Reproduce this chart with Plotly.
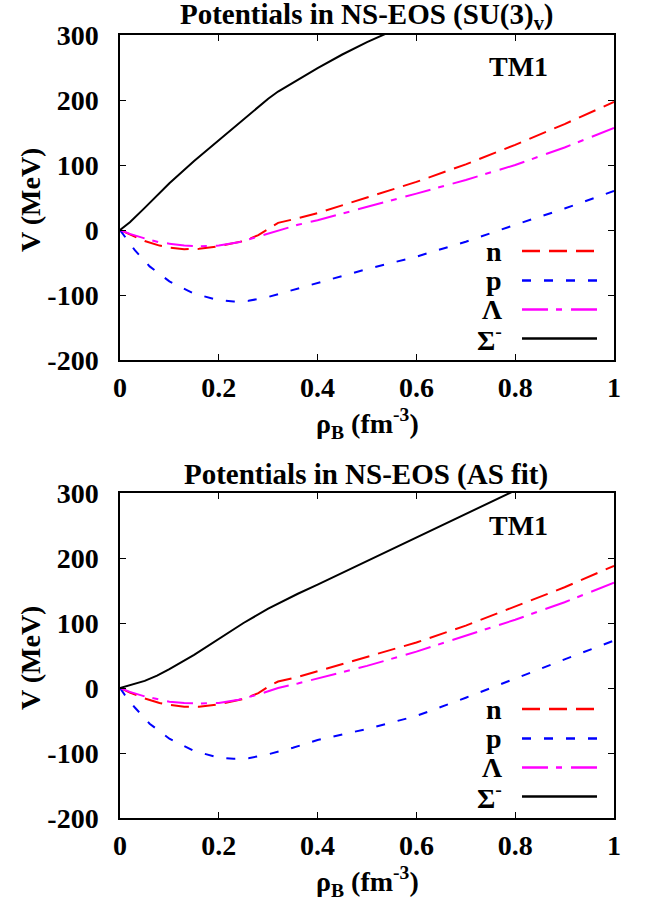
import plotly.graph_objects as go

W, H = 657, 909

# ---------------- data: top panel, SU(3)_v ----------------
n1_x = [0, 0.02, 0.05, 0.08, 0.1, 0.13, 0.16, 0.2, 0.25, 0.28, 0.30, 0.32, 0.36, 0.4, 0.5, 0.6, 0.7, 0.8, 0.9, 1.0]
n1_v = [0, -7, -17, -24, -27, -29.5, -29, -25, -17, -8, 2, 11, 18, 26, 50, 74, 101, 131, 163, 197]

p1_x = [0, 0.01, 0.03, 0.06, 0.1, 0.15, 0.2, 0.23, 0.26, 0.3, 0.35, 0.4, 0.5, 0.6, 0.7, 0.8, 0.9, 1.0]
p1_v = [0, -11, -31, -56, -79, -98, -108, -110, -109, -103, -92, -81, -60, -41, -18, 8, 33, 60]

l1_x = [0, 0.02, 0.05, 0.08, 0.1, 0.13, 0.16, 0.2, 0.24, 0.28, 0.32, 0.36, 0.4, 0.5, 0.6, 0.7, 0.8, 0.9, 1.0]
l1_v = [0, -6, -13, -19, -21, -24, -25, -24, -19, -10, 0, 8, 15, 35, 56, 77, 100, 127, 157]

s1_x = [0, 0.02, 0.05, 0.1, 0.15, 0.2, 0.25, 0.3, 0.32, 0.36, 0.4, 0.45, 0.5, 0.55, 0.6]
s1_v = [0, 12, 34, 72, 106, 138, 170, 202, 213, 231, 249, 270, 289, 306, 324]

# ---------------- data: bottom panel, AS fit ----------------
n2_x = [0, 0.02, 0.05, 0.08, 0.1, 0.13, 0.16, 0.2, 0.25, 0.28, 0.30, 0.32, 0.36, 0.4, 0.5, 0.6, 0.7, 0.8, 0.9, 1.0]
n2_v = [0, -7, -16, -23, -26, -29, -29, -25, -17, -8, 2, 10, 17, 26, 48, 70, 96, 126, 155, 188]

p2_x = [0, 0.01, 0.03, 0.06, 0.1, 0.15, 0.2, 0.23, 0.26, 0.3, 0.35, 0.4, 0.5, 0.6, 0.7, 0.75, 0.8, 0.9, 1.0]
p2_v = [0, -11, -30, -55, -78, -97, -107, -109, -108, -102, -92, -80, -63, -43, -15, 0, 15, 44, 73]

l2_x = [0, 0.02, 0.05, 0.08, 0.1, 0.13, 0.16, 0.2, 0.24, 0.28, 0.32, 0.36, 0.4, 0.5, 0.6, 0.7, 0.8, 0.9, 1.0]
l2_v = [0, -6, -13, -18, -21, -23, -24, -23, -18, -10, 0, 7, 15, 34, 56, 80, 105, 132, 162]

s2_x = [0, 0.025, 0.05, 0.075, 0.1, 0.15, 0.2, 0.25, 0.3, 0.32, 0.36, 0.4, 0.5, 0.6, 0.7, 0.8]
s2_v = [0, 5, 11, 19, 29, 51, 76, 100, 122, 130, 145, 159, 195, 232, 268, 304]

# ---------------- labels ----------------
x_tickvals = [0, 0.2, 0.4, 0.6, 0.8, 1]
x_ticktext = ["0", "0.2", "0.4", "0.6", "0.8", "1"]
y_tickvals = [-200, -100, 0, 100, 200, 300]
y_ticktext = ["-200", "-100", "0", "100", "200", "300"]
series_names = ["n", "p", "Λ", "Σ<sup>-</sup>"]
panel_titles = ["Potentials in NS-EOS (SU(3)<sub>v</sub>)", "Potentials in NS-EOS (AS fit)"]
model_label = "TM1"
x_title = "ρ<sub>B</sub> (fm<sup>-3</sup>)"
y_title = "V (MeV)"

# ---------------- styles ----------------
FONT = "Liberation Serif"
styles = [
    dict(color="#ff0000", width=2, dash="18px,9px"),
    dict(color="#0000ff", width=2, dash="9px,13px"),
    dict(color="#ff00ff", width=2, dash="26px,8px,6px,9px"),
    dict(color="#000000", width=2, dash="solid"),
]

# pixel geometry helpers (layout only)
X0, X1 = 120, 614
panels_px = [(35, 360), (493, 818)]


def px(xp):
    return xp / W


def py(yp):
    return 1 - yp / H


def bold(size):
    return dict(family=FONT, size=size, color="black", weight="bold")


fig = go.Figure()

panel_data = [
    [(n1_x, n1_v), (p1_x, p1_v), (l1_x, l1_v), (s1_x, s1_v)],
    [(n2_x, n2_v), (p2_x, p2_v), (l2_x, l2_v), (s2_x, s2_v)],
]

annotations = []
shapes = []

for i, (series, (ytop, ybot)) in enumerate(zip(panel_data, panels_px)):
    xa = "x" if i == 0 else "x2"
    ya = "y" if i == 0 else "y2"
    for (xs, vs), st, name in zip(series, styles, series_names):
        fig.add_trace(go.Scatter(x=xs, y=vs, mode="lines", line=st, name=name,
                                 showlegend=False, xaxis=xa, yaxis=ya,
                                 hoverinfo="skip"))
    axis_common = dict(showline=True, linecolor="black", linewidth=1.5, mirror="ticks",
                       ticks="inside", ticklen=6, tickwidth=1.2, tickcolor="black",
                       showgrid=False, zeroline=False, automargin=False,
                       tickfont=bold(28))
    xkey = "xaxis" if i == 0 else "xaxis2"
    ykey = "yaxis" if i == 0 else "yaxis2"
    fig.update_layout(**{
        xkey: dict(axis_common, domain=[px(X0), px(X1)], range=[0, 1],
                   tickvals=x_tickvals, ticktext=x_ticktext, anchor=ya,
                   ticklabelstandoff=2),
        ykey: dict(axis_common, domain=[py(ybot), py(ytop)], range=[-200, 300],
                   tickvals=y_tickvals, ticktext=y_ticktext, anchor=xa,
                   ticklabelstandoff=14),
    })
    off = ytop - 35
    annotations.append(dict(text=panel_titles[i], x=px(366), y=py(16 + off), xref="paper", yref="paper",
                            showarrow=False, xanchor="center", yanchor="middle", font=bold(29)))
    annotations.append(dict(text=model_label, x=px(550), y=py(67 + off), xref="paper", yref="paper",
                            showarrow=False, xanchor="right", yanchor="middle", font=bold(28)))
    annotations.append(dict(text=x_title, x=px(367), y=py(423 + off), xref="paper", yref="paper",
                            showarrow=False, xanchor="center", yanchor="middle", font=bold(28)))
    annotations.append(dict(text=y_title, x=px(30), y=py(200 + off), xref="paper", yref="paper",
                            showarrow=False, xanchor="center", yanchor="middle", textangle=-90,
                            font=bold(28)))
    rows = [251, 280.5, 309.5, 338.5]
    for r, st, name in zip(rows, styles, series_names):
        annotations.append(dict(text=name, x=px(504), y=py(r + off), xref="paper", yref="paper",
                                showarrow=False, xanchor="right", yanchor="middle", font=bold(28)))
        shapes.append(dict(type="line", xref="paper", yref="paper",
                           x0=px(522), x1=px(597), y0=py(r + off), y1=py(r + off),
                           line=dict(color=st["color"], width=2.5, dash=st["dash"])))

fig.update_layout(
    width=W, height=H,
    margin=dict(l=0, r=0, t=0, b=0, pad=0),
    paper_bgcolor="white", plot_bgcolor="white",
    annotations=annotations, shapes=shapes,
    showlegend=False,
    font=bold(28),
)

# remove the browser's default 8px page margin so the figure fills the window
fig.write_html("out.html", config={"displayModeBar": False},
               post_script="document.body.style.margin='0';document.body.style.overflow='hidden';")
